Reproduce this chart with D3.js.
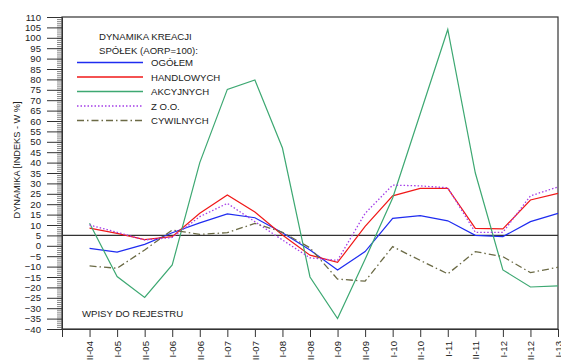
<!DOCTYPE html>
<html><head><meta charset="utf-8">
<script src="https://cdn.jsdelivr.net/npm/d3@7"></script>
<style>
body{margin:0;background:#fff;}
svg{display:block;font-family:"Liberation Sans",Arial,sans-serif;}
</style></head><body>
<svg id="c" width="561" height="363"></svg>
<script>
const categories = ["II-04","I-05","II-05","I-06","II-06","I-07","II-07","I-08","II-08","I-09","II-09","I-10","II-10","I-11","II-11","I-12","II-12","I-13"];
const ogolem      = [-1.2,-3,0.7,6.3,11,15.3,13.5,6.3,-2,-11.6,-2.8,13.2,14.5,12,5,4.4,11.6,15.6];
const handlowych  = [8.5,6,3,4.4,15.6,24.4,16.2,5.2,-4.5,-8,9.3,24,27.6,27.6,8.4,8.1,22,25.2];
const akcyjnych   = [10.8,-14.8,-24.8,-9.2,40,75.2,79.7,47,-15,-35,-6.5,23,63.5,104,35,-11.6,-19.8,-19.3];
const zoo         = [10,6.5,2.8,4,14,20.4,11.6,2.8,-5.8,-7,15.6,29.2,28.8,27.9,6.5,6.5,24,28.3];
const cywilnych   = [-9.7,-10.8,-2,7.6,5.5,6.3,10.8,6.5,-1,-16,-17,-0.4,-7,-13.5,-2.8,-5.2,-12.9,-10.3];
const seriesNames = ["OGÓŁEM","HANDLOWYCH","AKCYJNYCH","Z O.O.","CYWILNYCH"];
const yTicks = d3.range(-40, 111, 5);
const refValue = 5;

const series = [
  {name: seriesNames[0], values: ogolem, color:"#1f2cf0", dash:null, w:1.2},
  {name: seriesNames[1], values: handlowych, color:"#f01818", dash:null, w:1.2},
  {name: seriesNames[2], values: akcyjnych, color:"#3da872", dash:null, w:1.2},
  {name: seriesNames[3], values: zoo, color:"#a43ee8", dash:"1.5,2", w:1.3},
  {name: seriesNames[4], values: cywilnych, color:"#6b6a45", dash:"7,3,1.5,3", w:1.3}
];

const svg = d3.select("#c");
const L=62, R=558, T=17, B=329;
const x = d3.scaleLinear().domain([-1, categories.length-1]).range([L, R]);
const y = d3.scaleLinear().domain([-40, 110]).range([B, T]);

svg.append("rect").attr("x",L).attr("y",T).attr("width",R-L).attr("height",B-T)
  .attr("fill","none").attr("stroke","#333").attr("stroke-width",1.2);

const yg = svg.append("g").attr("transform",`translate(${L},0)`);
yg.call(d3.axisLeft(y).tickValues(d3.range(-40,111,1)).tickSize(5).tickFormat(""))
  .call(g=>g.select(".domain").remove())
  .call(g=>g.selectAll("line").attr("stroke","#666").attr("stroke-width",0.8));
const yg2 = svg.append("g").attr("transform",`translate(${L},0)`);
yg2.call(d3.axisLeft(y).tickValues(yTicks).tickSize(15).tickPadding(6))
  .call(g=>g.select(".domain").attr("stroke","#333"))
  .call(g=>g.selectAll("line").attr("stroke","#333"))
  .call(g=>g.selectAll("text").attr("font-size","9.6px").attr("fill","#222").attr("font-family","Liberation Sans, Arial, sans-serif"));

const xg = svg.append("g").attr("transform",`translate(0,${B})`);
xg.call(d3.axisBottom(x).tickValues(d3.range(categories.length)).tickSize(8).tickFormat(i=>categories[i]))
  .call(g=>g.select(".domain").attr("stroke","#333"))
  .call(g=>g.selectAll("line").attr("stroke","#333"))
  .call(g=>g.selectAll("text")
    .attr("font-size","9.6px").attr("fill","#222").attr("font-family","Liberation Sans, Arial, sans-serif")
    .attr("transform","rotate(-90)").attr("text-anchor","end")
    .attr("x",-12).attr("y",0).attr("dy","0.35em"));

svg.append("line").attr("x1",L).attr("x2",R).attr("y1",y(refValue)).attr("y2",y(refValue))
  .attr("stroke","#333").attr("stroke-width",1.3);

const line = d3.line().x((d,i)=>x(i)).y(d=>y(d));
series.forEach(s=>{
  svg.append("path").attr("d",line(s.values)).attr("fill","none")
    .attr("stroke",s.color).attr("stroke-width",s.w)
    .attr("stroke-dasharray",s.dash);
});

const tf = "9.6px";
svg.append("text").attr("x",99).attr("y",40).attr("font-size",tf).attr("fill","#222").text("DYNAMIKA KREACJI");
svg.append("text").attr("x",99).attr("y",54).attr("font-size",tf).attr("fill","#222").text("SPÓŁEK (AORP=100):");
series.forEach((s,i)=>{
  const cy = 62.5 + i*14.5;
  svg.append("line").attr("x1",77).attr("x2",143).attr("y1",cy).attr("y2",cy)
    .attr("stroke",s.color).attr("stroke-width",1.4).attr("stroke-dasharray",s.dash);
  svg.append("text").attr("x",151).attr("y",cy+3.5).attr("font-size",tf).attr("fill","#222").text(s.name);
});

svg.append("text").attr("x",82).attr("y",317).attr("font-size",tf).attr("fill","#222").text("WPISY DO REJESTRU");

svg.append("text").attr("transform","translate(19.5,160) rotate(-90)").attr("text-anchor","middle")
  .attr("font-size","9.2px").attr("fill","#222").text("DYNAMIKA [INDEKS - W %]");
</script>
</body></html>
